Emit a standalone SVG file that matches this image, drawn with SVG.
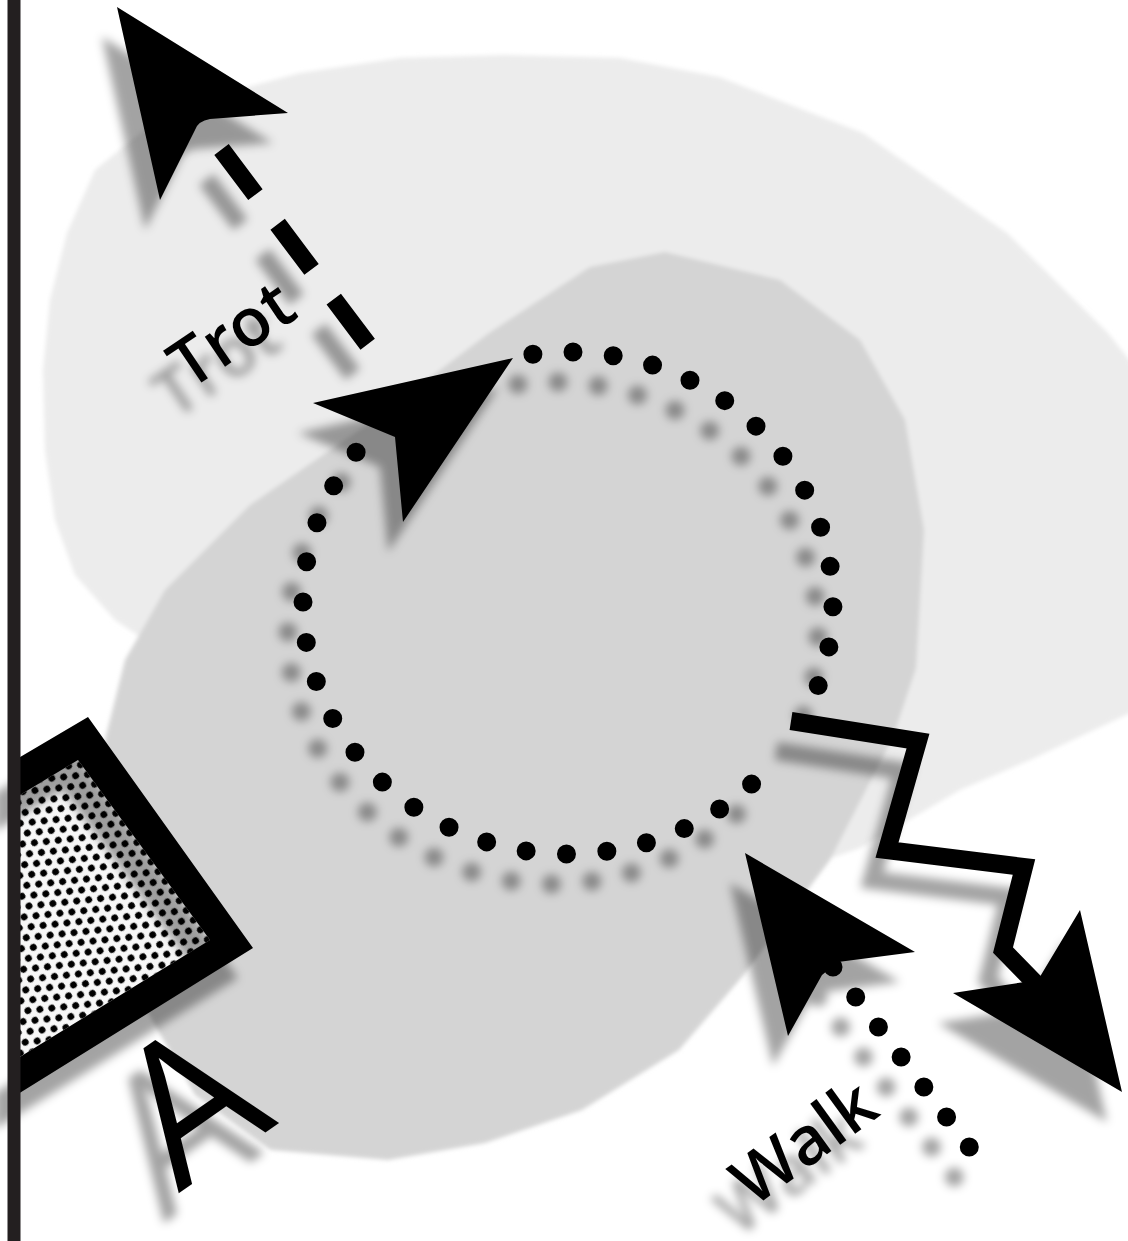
<svg xmlns="http://www.w3.org/2000/svg" width="1128" height="1241" viewBox="0 0 1128 1241">
<defs>
<style>
.ink{fill:#000}
.lbl{font-family:"Open Sans","Noto Sans","Liberation Sans",sans-serif;fill:#000}
.dot{fill:none;stroke:#000;stroke-width:19;stroke-linecap:round;stroke-dasharray:0 1}
.sh{filter:url(#sh)}
</style>
<filter id="sh" filterUnits="userSpaceOnUse" x="-100" y="-100" width="1350" height="1450">
<feGaussianBlur in="SourceAlpha" stdDeviation="5"/>
<feOffset dx="-15" dy="30" result="b"/>
<feFlood flood-color="#000" flood-opacity="0.36"/>
<feComposite in2="b" operator="in"/>
<feMerge><feMergeNode/><feMergeNode in="SourceGraphic"/></feMerge>
</filter>
<filter id="soft" x="-5%" y="-5%" width="110%" height="110%">
<feGaussianBlur stdDeviation="2"/>
</filter>
<pattern id="halftone" patternUnits="userSpaceOnUse" width="12" height="20.78" patternTransform="rotate(54)">
<rect width="12" height="20.78" fill="#f7f7f7"/>
<circle cx="0" cy="0" r="3.4"/><circle cx="12" cy="0" r="3.4"/><circle cx="6" cy="10.39" r="3.4"/><circle cx="0" cy="20.78" r="3.4"/><circle cx="12" cy="20.78" r="3.4"/>
</pattern>
</defs>
<rect width="1128" height="1241" fill="#fff"/>
<g id="blobs" filter="url(#soft)">
<polygon id="blob-light" fill="#ececec" points="504,55 620,58 719,77 863,133 1007,233 1108,333 1200,450 1200,690 1128,714 1030,760 960,790 900,825 860,848 820,862 600,800 300,700 160,650 115,620 75,575 55,520 45,450 43,370 50,300 67,233 95,170 144,130 200,100 300,73 400,58"/>
<polygon id="blob-dark" fill="#d4d4d4" points="665,252 780,280 860,340 905,420 924,530 916,668 893,737 830,860 742,977 679,1050 582,1110 485,1143 388,1160 271,1150 195,1095 135,990 105,860 105,740 125,660 165,590 250,505 374,420 489,333 590,267"/>
</g>
<g id="node-square">
<polygon fill="url(#halftone)" points="78,760 210,940 10,1063 10,801"/>
<path class="sh" fill="#000" fill-rule="evenodd" d="M88,717 L253,948 L10,1099 L10,763 Z M78,760 L10,801 L10,1063 L210,940 Z"/>
</g>
<g id="label-A" class="sh">
<text class="lbl" x="229" y="1158" text-anchor="middle" font-size="194" transform="rotate(-35 229 1158)">A</text>
</g>
<g id="connectors">
<g id="trot-edge" class="sh">
<path d="M221.5,149.5 L369,346" fill="none" stroke="#000" stroke-width="18" stroke-dasharray="56.5 37"/>
<path class="ink" d="M117,7 L288,113 L210,119 Q198,121 195,130 L160,200 Z"/>
</g>
<g id="loop-edge" class="sh">
<path class="dot" pathLength="20" d="M356.1,452.3 A265,251 0 0 0 408.3,803.3 A265,251 0 0 0 779.2,754.7"/>
<path class="dot" pathLength="13" d="M818.2,685.6 A265,251 0 0 0 532.9,354.2"/>
<path class="ink" d="M513,358 L313,403 L395,437 L403,522 Z"/>
</g>
<g id="zigzag-edge" class="sh">
<path d="M791,721 L918,741 L887,850 L1024,867 L1003,950 L1042,990" fill="none" stroke="#000" stroke-width="18" stroke-linejoin="miter"/>
<path class="ink" d="M1080,910 L1122,1092 L953,993 L1038,980 Z"/>
</g>
<g id="walk-edge" class="sh">
<path class="dot" pathLength="7" d="M833,967 L992,1177"/>
<path class="ink" d="M745,853 L915,952 L838,962 L822,975 L788,1036 Z"/>
</g>
</g>
<g id="label-trot" class="sh">
<text class="lbl" x="189" y="391" font-size="67" font-weight="600" transform="rotate(-34 189 391)">Trot</text>
</g>
<g id="label-walk" class="sh">
<text class="lbl" x="753" y="1208" font-size="67" font-weight="600" transform="rotate(-36 753 1208)">Walk</text>
</g>
<rect id="bar" x="7.5" y="0" width="13" height="1241" fill="#231f20"/>
</svg>
